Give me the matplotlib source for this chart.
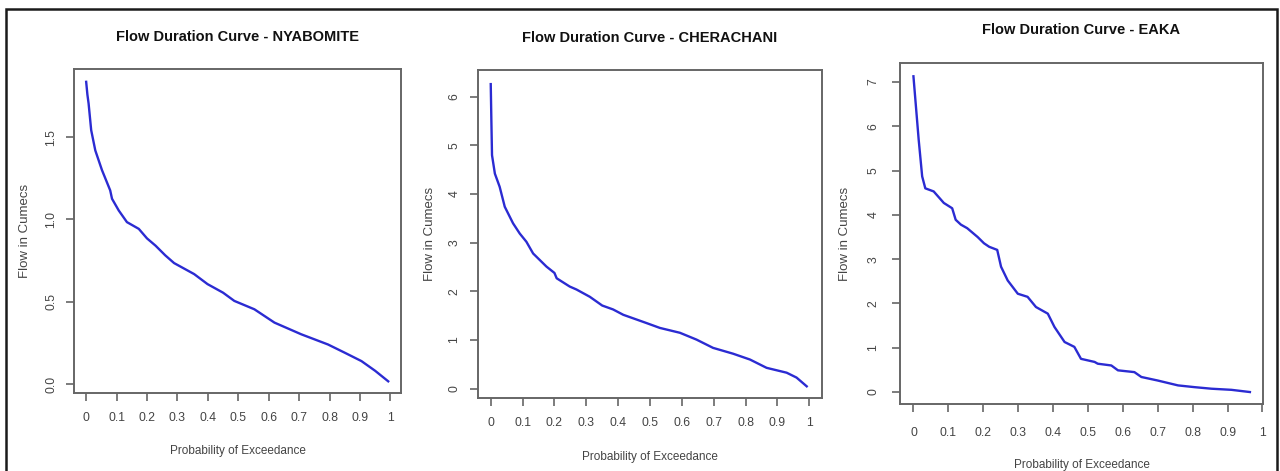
import matplotlib
matplotlib.use("Agg")
import matplotlib.pyplot as plt
from matplotlib.patches import Rectangle

plt.rcParams['font.family'] = ['Liberation Sans', 'DejaVu Sans']

titles = ["Flow Duration Curve - NYABOMITE",
          "Flow Duration Curve - CHERACHANI",
          "Flow Duration Curve - EAKA"]

x_nyabomite = [0, 0.004, 0.008, 0.0165, 0.03, 0.052, 0.079, 0.085, 0.107, 0.134, 0.173,
               0.2, 0.228, 0.26, 0.289, 0.355, 0.399, 0.45, 0.487, 0.553, 0.619, 0.707,
               0.795, 0.85, 0.905, 0.95, 0.993]
y_nyabomite = [1.837, 1.76, 1.705, 1.543, 1.42, 1.30, 1.177, 1.126, 1.055, 0.984, 0.943,
               0.885, 0.841, 0.782, 0.735, 0.668, 0.607, 0.555, 0.505, 0.454, 0.373, 0.302,
               0.24, 0.19, 0.139, 0.08, 0.016]

x_cherachani = [0, 0.002, 0.004, 0.013, 0.028, 0.044, 0.07, 0.091, 0.112, 0.133, 0.175,
                0.2, 0.207, 0.248, 0.269, 0.311, 0.35, 0.384, 0.416, 0.489, 0.531, 0.594,
                0.646, 0.698, 0.761, 0.814, 0.866, 0.929, 0.96, 0.992]
y_cherachani = [6.26, 5.5, 4.80, 4.42, 4.15, 3.74, 3.40, 3.19, 3.02, 2.78, 2.51,
                2.38, 2.27, 2.10, 2.04, 1.89, 1.71, 1.63, 1.52, 1.35, 1.25, 1.15,
                1.01, 0.84, 0.72, 0.60, 0.43, 0.33, 0.23, 0.05]

x_eaka = [0, 0.015, 0.025, 0.034, 0.058, 0.087, 0.111, 0.121, 0.136, 0.154, 0.184,
          0.202, 0.217, 0.24, 0.251, 0.27, 0.299, 0.327, 0.351, 0.385, 0.404,
          0.433, 0.461, 0.48, 0.519, 0.528, 0.567, 0.586, 0.633, 0.653, 0.7, 0.758,
          0.806, 0.854, 0.911, 0.964]
y_eaka = [7.13, 5.70, 4.87, 4.60, 4.53, 4.27, 4.15, 3.89, 3.78, 3.70, 3.50,
          3.36, 3.28, 3.21, 2.83, 2.52, 2.22, 2.15, 1.92, 1.77, 1.47,
          1.13, 1.02, 0.75, 0.68, 0.64, 0.60, 0.49, 0.45, 0.34, 0.26, 0.15,
          0.11, 0.075, 0.05, 0.0]

x_ticks = [0, 0.1, 0.2, 0.3, 0.4, 0.5, 0.6, 0.7, 0.8, 0.9, 1]
x_tick_labels = ["0", "0.1", "0.2", "0.3", "0.4", "0.5", "0.6", "0.7", "0.8", "0.9", "1"]
y_ticks_1 = [0.0, 0.5, 1.0, 1.5]
y_tick_labels_1 = ["0.0", "0.5", "1.0", "1.5"]
y_ticks_2 = [0, 1, 2, 3, 4, 5, 6]
y_ticks_3 = [0, 1, 2, 3, 4, 5, 6, 7]

W, H = 1280, 471
fig = plt.figure(figsize=(W / 100, H / 100), dpi=100)
fig.patch.set_facecolor('white')

# outer frame
fig.add_artist(Rectangle((6 / W, -0.05), (1277 - 6) / W, 1.05 - 9 / H,
                         transform=fig.transFigure, fill=False,
                         edgecolor='#1a1a1a', linewidth=1.8))

def px_axes(l, r, t, b):
    return fig.add_axes([l / W, 1 - b / H, (r - l) / W, (b - t) / H])

panels = [
    dict(box=(74, 401, 69, 393), x=x_nyabomite, y=y_nyabomite, yt=y_ticks_1,
         ytl=y_tick_labels_1, title_y=37, xlim=(-0.04, 1.035), ylim=(-0.055, 1.915),
         ylab_x=25, ytl_x=53, xtl_y=417, xlab_y=451),
    dict(box=(478, 822, 70, 398), x=x_cherachani, y=y_cherachani, yt=y_ticks_2,
         ytl=[str(v) for v in y_ticks_2], title_y=38, xlim=(-0.04, 1.04), ylim=(-0.19, 6.55),
         ylab_x=430, ytl_x=456, xtl_y=422, xlab_y=457),
    dict(box=(900, 1263, 63, 404), x=x_eaka, y=y_eaka, yt=y_ticks_3,
         ytl=[str(v) for v in y_ticks_3], title_y=30, xlim=(-0.0385, 1.0015), ylim=(-0.27, 7.43),
         ylab_x=845, ytl_x=875, xtl_y=432, xlab_y=465),
]

tick_col = '#444444'
for p, title in zip(panels, titles):
    l, r, t, b = p['box']
    ax = px_axes(l, r, t, b)
    ax.plot(p['x'], p['y'], color='#2b2bd2', linewidth=1.7)
    ax.set_xlim(*p['xlim'])
    ax.set_ylim(*p['ylim'])
    for s in ax.spines.values():
        s.set_color('#666666')
        s.set_linewidth(1.4)
    ax.set_xticks(x_ticks)
    ax.set_xticklabels(x_tick_labels)
    ax.set_yticks(p['yt'])
    ax.set_yticklabels(p['ytl'], rotation=90, va='center')
    ax.tick_params(axis='both', colors='#666666', labelcolor=tick_col, length=6,
                   width=1.2, labelsize=8.8)
    xt_pad = (p['xtl_y'] - b) * 0.72 - 6 * 0.72 - 5
    ax.tick_params(axis='x', pad=max(xt_pad, 1))
    yt_pad = (l - p['ytl_x']) * 0.72 - 6 * 0.72 - 5
    ax.tick_params(axis='y', pad=max(yt_pad, 1))
    cx = (l + r) / 2
    fig.text(cx / W, 1 - p['title_y'] / H, title, ha='center', va='center',
             fontsize=10.5, fontweight='bold', color='#111111')
    fig.text(cx / W, 1 - p['xlab_y'] / H, "Probability of Exceedance", ha='center',
             va='center', fontsize=8.5, color=tick_col)
    fig.text(p['ylab_x'] / W, 1 - ((t + b) / 2) / H, "Flow in Cumecs", ha='center',
             va='center', rotation=90, fontsize=9.5, color=tick_col)

fig.savefig("out.png", dpi=100, facecolor='white')
